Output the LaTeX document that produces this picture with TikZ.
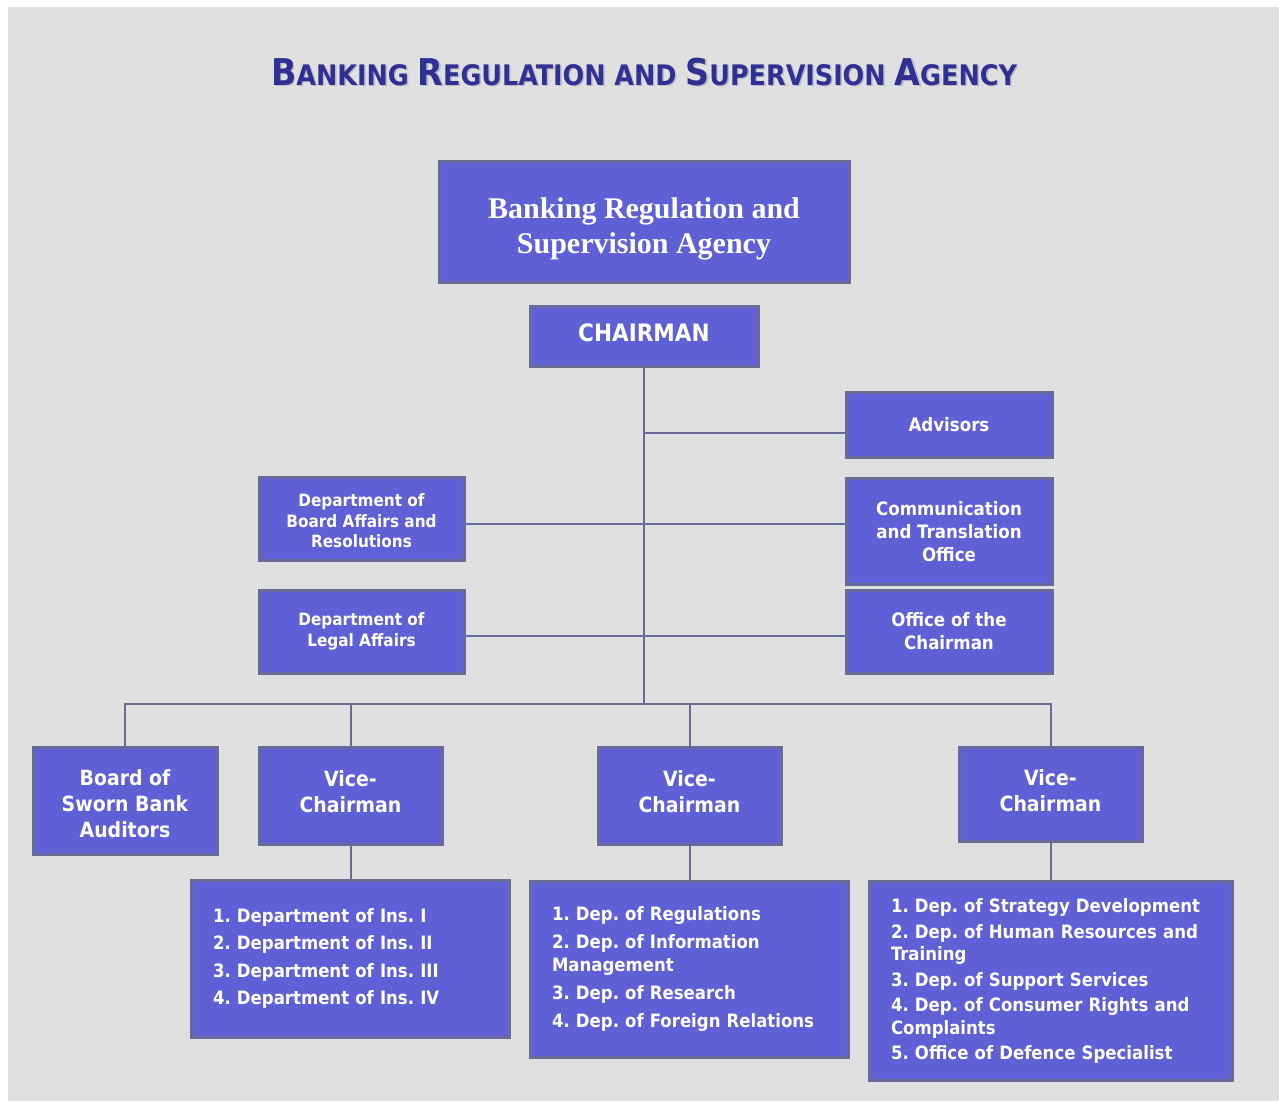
\documentclass[tikz,border=0pt]{standalone}
\usepackage{fontspec}
\newfontfamily\orgsans{DejaVuSansCondensed-Bold.ttf}
\newfontfamily\orgserif{Liberation Serif}
\frenchspacing

\definecolor{boxfill}{RGB}{96,96,214}
\definecolor{boxedge}{RGB}{106,106,154}
\definecolor{pagegrey}{RGB}{224,224,224}
\definecolor{titleblue}{RGB}{48,48,148}
\definecolor{titleshade}{RGB}{186,186,198}

% larger initial capitals for the small-caps title
\newcommand\initcap[1]{{\fontsize{36.9}{37}\selectfont #1}}
\newcommand\headline{\initcap{B}ANKING \initcap{R}EGULATION AND \initcap{S}UPERVISION \initcap{A}GENCY}

\tikzset{
  orgbox/.style={draw=boxedge, line width=3pt, fill=boxfill, text=white,
    align=center, inner sep=0pt},
  boxtext/.style={text=white, align=center, inner sep=0pt},
  listbox/.style={orgbox, align=left, inner xsep=22pt, inner ysep=0pt},
  link/.style={draw=boxedge, line width=2pt},
  fbig/.style={font=\orgsans\fontsize{24}{28}\selectfont},
  fmid/.style={font=\orgsans\fontsize{21}{26}\selectfont},
  fside/.style={font=\orgsans\fontsize{18.5}{23}\selectfont},
  fdept/.style={font=\orgsans\fontsize{17}{20.5}\selectfont},
  fserif/.style={font=\orgserif\bfseries\fontsize{30}{35}\selectfont},
}

\begin{document}
\begin{tikzpicture}[x=1pt,y=-1pt]
  \useasboundingbox (0,0) rectangle (1279,1101);
  \fill[white] (0,0) rectangle (1279,1101);
  \fill[pagegrey] (8,7) rectangle (1279,1101);

  % title
  \node[anchor=base, text=titleshade, font=\orgsans\fontsize{28.3}{30}\selectfont]
    (titleshadow) at (645.5,86.5) {\headline};
  \node[anchor=base, text=titleblue, font=\orgsans\fontsize{28.3}{30}\selectfont]
    (title) at (644,85) {\headline};

  % top of the hierarchy
  \node[orgbox, minimum width=410, minimum height=121,
        label={[boxtext, fserif, yshift=-7.5pt]center:Banking Regulation and\\Supervision Agency}]
    (agency) at (644,221.5) {};
  \node[orgbox, minimum width=228, minimum height=60,
        label={[boxtext, fbig, yshift=3pt]center:CHAIRMAN}]
    (chair) at (644,336) {};

  % staff units
  \node[orgbox, fside, minimum width=206, minimum height=65]
    (advisors) at (949,424.5) {Advisors};
  \node[orgbox, minimum width=205, minimum height=83,
        label={[boxtext, fdept, yshift=-2.5pt]center:Department of\\Board Affairs and\\Resolutions}]
    (boardaff) at (361.5,518.5) {};
  \node[orgbox, fside, minimum width=206, minimum height=106]
    (comm) at (949,531.5) {Communication\\and Translation\\Office};
  \node[orgbox, fdept, minimum width=205, minimum height=83]
    (legal) at (361.5,631.5) {Department of\\Legal Affairs};
  \node[orgbox, fside, minimum width=206, minimum height=83]
    (office) at (949,631.5) {Office of the\\Chairman};

  % second level
  \node[orgbox, minimum width=184, minimum height=107,
        label={[boxtext, fmid, yshift=-3pt]center:Board of\\Sworn Bank\\Auditors}]
    (auditors) at (125,800.5) {};
  \node[orgbox, minimum width=183, minimum height=97,
        label={[boxtext, fmid, yshift=4pt]center:Vice-\\Chairman}]
    (vc1) at (350.5,795.5) {};
  \node[orgbox, minimum width=183, minimum height=97,
        label={[boxtext, fmid, yshift=4pt]center:Vice-\\Chairman}]
    (vc2) at (689.5,795.5) {};
  \node[orgbox, minimum width=183, minimum height=94,
        label={[boxtext, fmid, yshift=3pt]center:Vice-\\Chairman}]
    (vc3) at (1050.5,794) {};

  % departments under each vice-chairman
  \node[listbox, text width=274, minimum height=157,
        font=\orgsans\fontsize{18.4}{23}\selectfont]
    (list1) at (350,958.5) {1. Department of Ins. I\\[4.5pt]
      2. Department of Ins. II\\[4.5pt]
      3. Department of Ins. III\\[4.5pt]
      4. Department of Ins. IV};
  \node[listbox, text width=274, minimum height=176,
        font=\orgsans\fontsize{18.4}{23}\selectfont]
    (list2) at (689,969) {1. Dep. of Regulations\\[5pt]
      2. Dep. of Information\\
      Management\\[5pt]
      3. Dep. of Research\\[5pt]
      4. Dep. of Foreign Relations};
  \node[listbox, text width=319, minimum height=199,
        font=\orgsans\fontsize{18.4}{22.5}\selectfont]
    (list3) at (1050.5,981) {1. Dep. of Strategy Development\\[3pt]
      2. Dep. of Human Resources and\\
      Training\\[3pt]
      3. Dep. of Support Services\\[3pt]
      4. Dep. of Consumer Rights and\\
      Complaints\\[3pt]
      5. Office of Defence Specialist};

  % junctions on the chairman's trunk
  \coordinate (ja) at (644,433);
  \coordinate (jb) at (644,524);
  \coordinate (jc) at (644,636);
  \coordinate (bus) at (644,704);

  % connectors
  \draw[link] (chair.south) -- (bus);
  \draw[link] (ja) -- (ja -| advisors.west);
  \draw[link] (boardaff.east |- jb) -- (jb -| comm.west);
  \draw[link] (legal.east |- jc) -- (jc -| office.west);
  \draw[link] (auditors.north) -- (auditors.north |- bus) -- (bus -| vc3.north) -- (vc3.north);
  \draw[link] (bus -| vc1.north) -- (vc1.north);
  \draw[link] (bus -| vc2.north) -- (vc2.north);
  \draw[link] (vc1.south) -- (list1.north -| vc1.south);
  \draw[link] (vc2.south) -- (list2.north -| vc2.south);
  \draw[link] (vc3.south) -- (list3.north -| vc3.south);
\end{tikzpicture}
\end{document}
